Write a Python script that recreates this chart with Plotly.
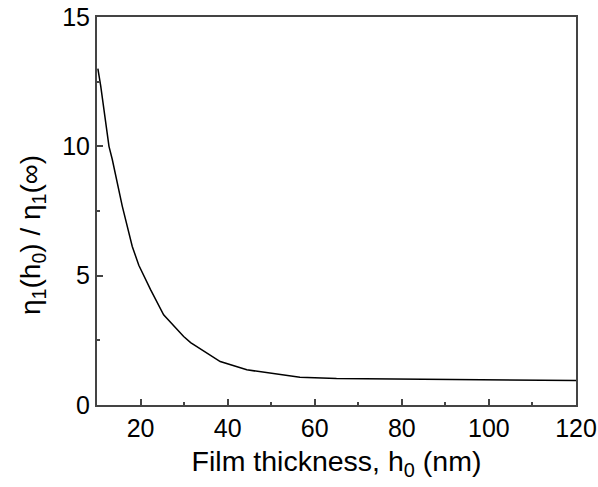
import plotly.graph_objects as go

# Film thickness h0 (nm) and normalised eta ratio
thickness = [10.2, 10.85, 12.75, 13.5, 15.8, 18.1, 19.6, 22.3, 25.3, 29.9, 31.5,
             38.3, 44.4, 53.6, 56.6, 65.0, 80.0, 100.0, 120.0]
ratio = [13.0, 12.34, 10.0, 9.5, 7.69, 6.13, 5.40, 4.46, 3.49, 2.65, 2.41,
         1.68, 1.36, 1.12, 1.07, 1.02, 1.0, 0.98, 0.95]

x_ticks = [20, 40, 60, 80, 100, 120]
y_ticks = [0, 5, 10, 15]

FONT = "Arial, 'Liberation Sans', sans-serif"
AXIS_COLOR = "#444444"
ML, MR, MT, MB = 97, 22, 17, 82
W, H = 598, 487
PW, PH = W - ML - MR, H - MT - MB

fig = go.Figure()
fig.add_trace(go.Scatter(x=thickness, y=ratio, mode="lines",
                         line=dict(color="black", width=1.5), showlegend=False))

fig.update_layout(
    width=W, height=H,
    margin=dict(l=ML, r=MR, t=MT, b=MB),
    plot_bgcolor="white", paper_bgcolor="white",
    font=dict(family=FONT, color="black", size=25),
)
fig.update_xaxes(
    range=[10, 120], tickvals=x_ticks, ticktext=[str(v) for v in x_ticks],
    ticks="inside", ticklen=6, tickwidth=1.5, tickcolor=AXIS_COLOR,
    minor=dict(dtick=10, tick0=0, ticks="inside", ticklen=3, tickcolor=AXIS_COLOR),
    showline=True, linecolor=AXIS_COLOR, linewidth=2, mirror=True,
    showgrid=False, zeroline=False, automargin=False,
    tickfont=dict(size=25),
    title=dict(text="Film thickness, h<sub>0</sub> (nm)", font=dict(size=28.5), standoff=10),
)
fig.update_yaxes(
    range=[0, 15], tickvals=y_ticks, ticktext=[str(v) for v in y_ticks],
    ticks="inside", ticklen=6, tickwidth=1.5, tickcolor=AXIS_COLOR,
    minor=dict(dtick=2.5, tick0=0, ticks="inside", ticklen=3, tickcolor=AXIS_COLOR),
    showline=True, linecolor=AXIS_COLOR, linewidth=2, mirror=True,
    showgrid=False, zeroline=False, automargin=False,
    tickfont=dict(size=25),
)
fig.add_annotation(
    text="η<sub>1</sub>(h<sub>0</sub>) / η<sub>1</sub>(∞)",
    xref="paper", yref="paper",
    x=(32 - ML) / PW, y=(H - MB - 235) / PH,
    xanchor="center", yanchor="middle",
    textangle=-90, showarrow=False, font=dict(size=28),
)

fig.write_html("out.html")
